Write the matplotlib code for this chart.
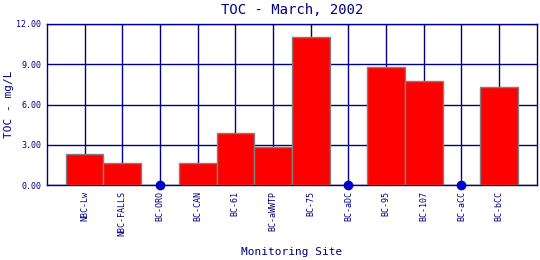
import matplotlib
matplotlib.use("Agg")
import matplotlib.pyplot as plt

sites = ["NBC-Lw", "NBC-FALLS", "BC-ORO", "BC-CAN", "BC-61", "BC-aWWTP",
         "BC-75", "BC-aDC", "BC-95", "BC-107", "BC-aCC", "BC-bCC"]
toc = [2.35, 1.62, 0.0, 1.62, 3.85, 2.81, 11.0, 0.0, 8.77, 7.73, 0.0, 7.28]
yticks = [0.0, 3.0, 6.0, 9.0, 12.0]

navy = "#000080"
plt.rcParams["font.family"] = "DejaVu Sans Mono"

fig = plt.figure(figsize=(5.4, 2.6), dpi=100)
ax = fig.add_axes([0.087, 0.288, 0.907, 0.62])

xs = list(range(1, len(sites) + 1))
for x, v in zip(xs, toc):
    if v > 0:
        ax.bar(x, v, width=1.0, color="#ff0000", edgecolor="#808080",
               linewidth=1.0, zorder=3)
    else:
        ax.plot(x, 0, "o", color="#0000cc", markersize=6, zorder=4,
                clip_on=False)

ax.set_xlim(0, 13)
ax.set_ylim(0, 12)
ax.set_xticks(xs)
ax.set_xticklabels(sites, rotation=90, fontsize=6, color=navy)
ax.set_yticks(yticks)
ax.set_yticklabels(["%.2f" % t for t in yticks], fontsize=6, color=navy)
ax.tick_params(length=0, pad=4)
ax.grid(True, color=navy, linewidth=1.0, zorder=1)
ax.set_axisbelow(True)
for s in ax.spines.values():
    s.set_color(navy)
    s.set_linewidth(1.0)

ax.set_title("TOC - March, 2002", fontsize=10, color=navy, pad=7)
fig.text(9 / 540, 0.598, "TOC - mg/L", rotation=90, ha="center", va="center",
         fontsize=8, color=navy)
ax.set_xlabel("Monitoring Site", fontsize=8, color=navy, labelpad=8)

fig.savefig("out.png", dpi=100)
